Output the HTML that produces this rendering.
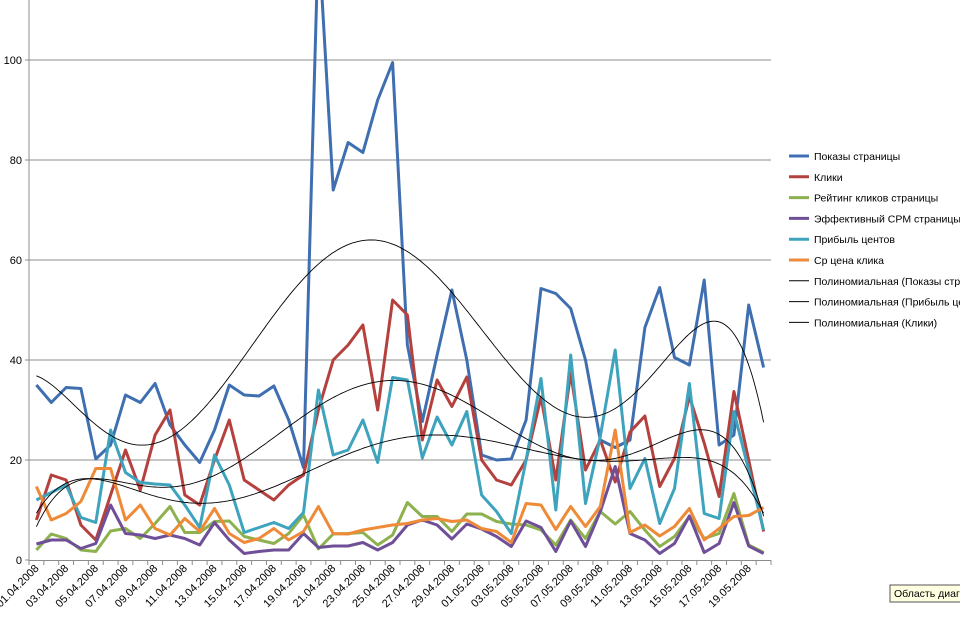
<!DOCTYPE html>
<html><head><meta charset="utf-8">
<style>
html,body{margin:0;padding:0;background:#fff;overflow:hidden;width:960px;height:627px}
svg text{font-family:"Liberation Sans","DejaVu Sans",sans-serif;fill:#000}
</style></head>
<body>
<svg id="chart" width="960" height="627" viewBox="0 0 960 627" xmlns="http://www.w3.org/2000/svg">
<g id="grid"></g>
<g id="yaxis"></g>
<g id="xaxis"></g>
<g id="series"></g>
<g id="trends"></g>
<g id="legend"></g>
<g>
<rect x="890" y="585" width="80" height="17" fill="#ffffe1" stroke="#555" stroke-width="1"/>
<text x="894" y="597" font-size="10.5">Область диаграммы</text>
</g>
</svg>
<script>
const dates = ["01.04.2008","02.04.2008","03.04.2008","04.04.2008","05.04.2008","06.04.2008","07.04.2008","08.04.2008","09.04.2008","10.04.2008","11.04.2008","12.04.2008","13.04.2008","14.04.2008","15.04.2008","16.04.2008","17.04.2008","18.04.2008","19.04.2008","20.04.2008","21.04.2008","22.04.2008","23.04.2008","24.04.2008","25.04.2008","26.04.2008","27.04.2008","28.04.2008","29.04.2008","30.04.2008","01.05.2008","02.05.2008","03.05.2008","04.05.2008","05.05.2008","06.05.2008","07.05.2008","08.05.2008","09.05.2008","10.05.2008","11.05.2008","12.05.2008","13.05.2008","14.05.2008","15.05.2008","16.05.2008","17.05.2008","18.05.2008","19.05.2008","20.05.2008"];
const yTicks = [0,20,40,60,80,100,120];
const views = [35,31.5,34.5,34.3,20.2,23,33,31.5,35.3,27,23,19.5,26,35,33,32.8,34.8,28,18.5,125,74,83.5,81.5,92,99.5,43,27.7,41,54,40,21,20,20.2,28,54.3,53.3,50.3,40,24,22.5,24,46.5,54.5,40.5,39,56,23,25,51,38.5];
const clicks = [8,17,16,7,4,13,22,14,25,30,13,11,20,28,16,14,12,15,17,30,40,43,47,30,52,49,24,36,30.7,36.6,20,16,15,20,32.6,16,37.4,18,24,15.6,25.6,28.8,14.7,20.3,32.7,23.4,12.7,33.7,20,5.7];
const ctr = [2,5.2,4.3,2,1.7,5.8,6.3,4.3,7.3,10.7,5.5,5.5,7.7,7.8,4.7,4,3.3,5.3,9,2.2,5.2,5.3,5.5,3,5,11.5,8.7,8.7,5.7,9.2,9.2,7.7,7.2,7,6,3,8,4.3,9.7,7.2,9.7,6,2.7,4.7,8.7,4.3,5.3,13.3,3,1.5];
const cpm = [3.2,4,4,2.3,3.3,11,5.3,5,4.3,5,4.3,3,7.5,4,1.3,1.7,2,2,5.3,2.5,2.8,2.8,3.5,2,3.5,7,8,7,4.2,7.2,6.2,4.7,2.7,7.8,6.5,1.7,7.8,2.7,9.7,18.7,5.3,4,1.3,3.3,8.8,1.5,3.3,11.5,2.8,1.3];
const profit = [12,13.5,15,8.5,7.5,26,17.5,15.5,15.2,15,11,6.5,21,15,5.5,6.5,7.5,6.3,9.5,34,21,22,28,19.5,36.5,36,20.4,28.6,23,29.7,13,9.7,5.3,20,36.3,10,41,11.3,24.7,42,14.3,20.3,7.3,14.3,35.3,9.3,8.3,29.7,18,6];
const cpc = [14.7,8,9.3,11.7,18.3,18.3,8,11,6.3,5,8.3,5.7,10.3,5.3,3.5,4.3,6.3,4,5.7,10.7,5.3,5.2,6,6.5,7,7.3,8,8.3,7.7,8,6.3,5.7,3.5,11.3,11,6.1,10.7,6.7,10.7,26,5.5,7,4.8,6.7,10.3,4,6.3,8.7,8.9,10.5];
const seriesNames = ["Показы страницы","Клики","Рейтинг кликов страницы","Эффективный CPM страницы","Прибыль центов","Ср цена клика"];
const trendNames = ["Полиномиальная (Показы страницы)","Полиномиальная (Прибыль центов)","Полиномиальная (Клики)"];

const NS="http://www.w3.org/2000/svg";
const X0=29, X1=771, Y0=560, PPU=5.0;
const n=dates.length, step=(X1-X0)/n;
function xs(i){return X0+step*(i+0.5);}
function ys(v){return Y0-v*PPU;}
function mk(tag,attrs,parent){const e=document.createElementNS(NS,tag);for(const k in attrs)e.setAttribute(k,attrs[k]);parent.appendChild(e);return e;}

const grid=document.getElementById('grid'), yax=document.getElementById('yaxis'), xax=document.getElementById('xaxis');
yTicks.forEach(v=>{
  const y=ys(v);
  if(v>0){const l=mk('line',{x1:X0,x2:X1,y1:y,y2:y,stroke:'#8c8c8c','stroke-width':1},grid);
    
    }
  const t=mk('text',{x:22,y:y+4,'font-size':11,'text-anchor':'end'},yax);
  t.textContent=v;
  
  
  mk('line',{x1:X0-4,x2:X0,y1:y,y2:y,stroke:'#8c8c8c'},yax);
});
mk('line',{x1:X0,x2:X0,y1:0,y2:Y0,stroke:'#8c8c8c'},yax);
mk('line',{x1:X0,x2:X1,y1:Y0+0.5,y2:Y0+0.5,stroke:'#8c8c8c'},xax);
for(let i=0;i<=n;i++){mk('line',{x1:X0+step*i,x2:X0+step*i,y1:Y0,y2:Y0+5,stroke:'#8c8c8c'},xax);}
dates.forEach((d,i)=>{
  if(i%2) return;
  const x=xs(i)+3, y=Y0+9;
  const t=mk('text',{x:x,y:y,'font-size':11,'text-anchor':'end',transform:`rotate(-45 ${x} ${y})`},xax);
  t.textContent=d;
  
  
});

const colors=['#3f6fb0','#b5413e','#8db14e','#6f4f97','#3ea3bd','#ee8a38'];
const data=[views,clicks,ctr,cpm,profit,cpc];
const sg=document.getElementById('series');
data.forEach((arr,k)=>{
  const p=mk('polyline',{points:arr.map((v,i)=>xs(i).toFixed(1)+','+ys(v).toFixed(1)).join(' '),fill:'none',stroke:colors[k],'stroke-width':3,'stroke-linejoin':'round'},sg);
  
  
});

function polyfit(arr,deg){
  const m=deg+1, A=[...Array(m)].map(()=>Array(m+1).fill(0));
  arr.forEach((v,i)=>{const t=(i-(n-1)/2)/((n-1)/2);const pw=[];for(let j=0;j<2*m;j++)pw.push(Math.pow(t,j));
    for(let r=0;r<m;r++){for(let c=0;c<m;c++)A[r][c]+=pw[r+c];A[r][m]+=v*pw[r];}});
  for(let c=0;c<m;c++){let p=c;for(let r=c+1;r<m;r++)if(Math.abs(A[r][c])>Math.abs(A[p][c]))p=r;[A[c],A[p]]=[A[p],A[c]];
    for(let r=0;r<m;r++){if(r===c)continue;const f=A[r][c]/A[c][c];for(let k=c;k<=m;k++)A[r][k]-=f*A[c][k];}}
  return A.map((row,i)=>row[m]/row[i]);
}
const tg=document.getElementById('trends');
[views,profit,clicks].forEach((arr,k)=>{
  const co=polyfit(arr,6);const pts=[];
  for(let s=0;s<=300;s++){const fi=s*(n-1)/300;const t=(fi-(n-1)/2)/((n-1)/2);let v=0;co.forEach((c,j)=>v+=c*Math.pow(t,j));
    pts.push(xs(fi).toFixed(1)+','+ys(v).toFixed(1));}
  const p=mk('polyline',{points:pts.join(' '),fill:'none',stroke:'#000','stroke-width':0.9},tg);
  
  
});

const lg=document.getElementById('legend');
const legendItems=seriesNames.map((s,i)=>[s,colors[i],3]).concat(trendNames.map(s=>[s,'#000',1]));
legendItems.forEach((it,i)=>{
  const y=156+i*20.8;
  const g=mk('g',{},lg);
  
  
  mk('line',{x1:789,x2:809,y1:y,y2:y,stroke:it[1],'stroke-width':it[2]},g);
  const t=mk('text',{x:814,y:y+4,'font-size':10.5},g);
  t.textContent=it[0];
});
</script>
</body></html>
